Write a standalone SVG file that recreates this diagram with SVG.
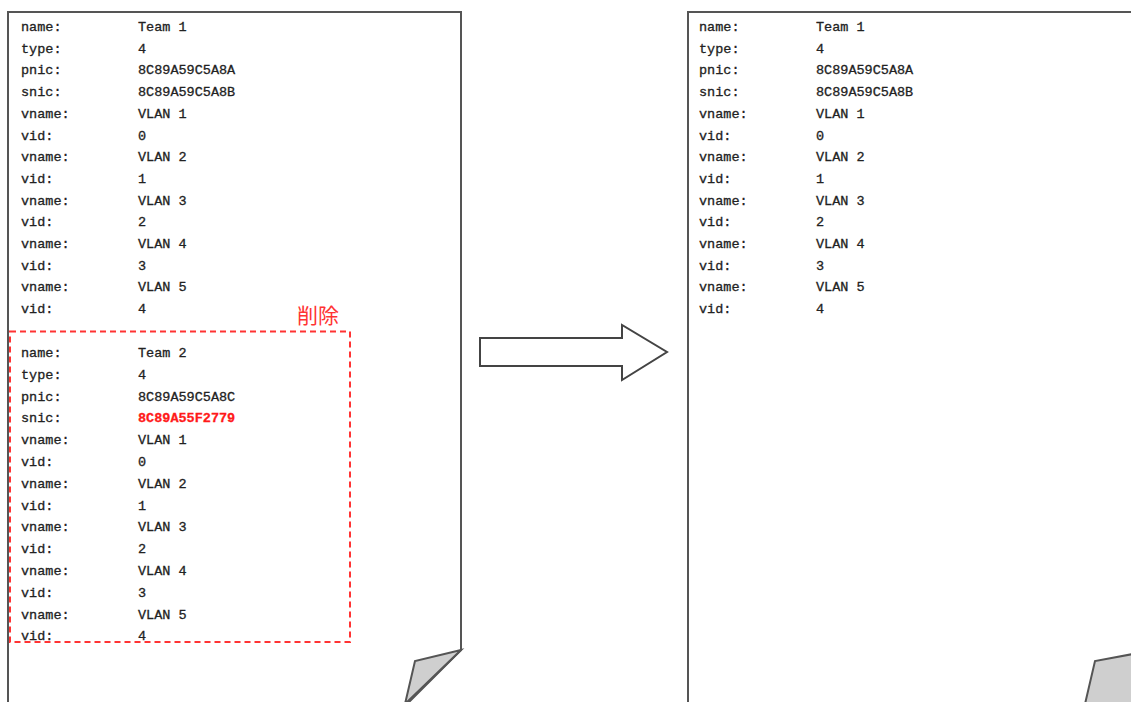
<svg xmlns="http://www.w3.org/2000/svg" width="1131" height="702" viewBox="0 0 1131 702">
<style>
.page{fill:#fff;stroke:#555;stroke-width:2}
.fold{fill:#cfcfcf;stroke:#555;stroke-width:2;stroke-linejoin:miter}
.t{font-family:"Liberation Mono","DejaVu Sans Mono",monospace;font-size:13.5px;fill:#222;stroke:#222;stroke-width:0.3}
.red{fill:#ff1a1a;stroke:#ff1a1a;font-weight:bold}
.del{fill:none;stroke:#ff3333;stroke-width:2;stroke-dasharray:6,4}
.lbl{font-family:"Noto Sans CJK JP","Noto Sans CJK SC",sans-serif;font-size:21px;fill:#ff3333}
.arrow{fill:#fff;stroke:#444;stroke-width:2}
</style>
<rect width="1131" height="702" fill="#fff"/>
<g id="page-before">
<path class="page" d="M8,12 H461 V650 L405,706 H8 Z"/>
<path class="fold" d="M461,650 L415,661 L405,704 Z"/>
<g class="t">
<text x="21" y="31">name:</text><text x="138" y="31">Team 1</text>
<text x="21" y="52.7">type:</text><text x="138" y="52.7">4</text>
<text x="21" y="74.4">pnic:</text><text x="138" y="74.4">8C89A59C5A8A</text>
<text x="21" y="96.1">snic:</text><text x="138" y="96.1">8C89A59C5A8B</text>
<text x="21" y="117.8">vname:</text><text x="138" y="117.8">VLAN 1</text>
<text x="21" y="139.5">vid:</text><text x="138" y="139.5">0</text>
<text x="21" y="161.2">vname:</text><text x="138" y="161.2">VLAN 2</text>
<text x="21" y="182.9">vid:</text><text x="138" y="182.9">1</text>
<text x="21" y="204.6">vname:</text><text x="138" y="204.6">VLAN 3</text>
<text x="21" y="226.3">vid:</text><text x="138" y="226.3">2</text>
<text x="21" y="248">vname:</text><text x="138" y="248">VLAN 4</text>
<text x="21" y="269.7">vid:</text><text x="138" y="269.7">3</text>
<text x="21" y="291.4">vname:</text><text x="138" y="291.4">VLAN 5</text>
<text x="21" y="313.1">vid:</text><text x="138" y="313.1">4</text>
<text x="21" y="357">name:</text><text x="138" y="357">Team 2</text>
<text x="21" y="378.8">type:</text><text x="138" y="378.8">4</text>
<text x="21" y="400.6">pnic:</text><text x="138" y="400.6">8C89A59C5A8C</text>
<text x="21" y="422.4">snic:</text><text x="138" y="422.4" class="red">8C89A55F2779</text>
<text x="21" y="444.2">vname:</text><text x="138" y="444.2">VLAN 1</text>
<text x="21" y="466">vid:</text><text x="138" y="466">0</text>
<text x="21" y="487.8">vname:</text><text x="138" y="487.8">VLAN 2</text>
<text x="21" y="509.6">vid:</text><text x="138" y="509.6">1</text>
<text x="21" y="531.4">vname:</text><text x="138" y="531.4">VLAN 3</text>
<text x="21" y="553.2">vid:</text><text x="138" y="553.2">2</text>
<text x="21" y="575">vname:</text><text x="138" y="575">VLAN 4</text>
<text x="21" y="596.8">vid:</text><text x="138" y="596.8">3</text>
<text x="21" y="618.6">vname:</text><text x="138" y="618.6">VLAN 5</text>
<text x="21" y="640.4">vid:</text><text x="138" y="640.4">4</text>
</g>
</g>
<g id="delete-region">
<rect class="del" x="10" y="331.5" width="340" height="310.5"/>
<text class="lbl" x="297" y="323">削除</text>
</g>
<g id="connectors">
<path class="arrow" d="M480,338 H622 V325 L667,352 L622,380 V366 H480 Z"/>
</g>
<g id="page-after">
<path class="page" d="M688,12 H1135 V706 H688 Z"/>
<path class="fold" d="M1133,654 L1095,661 L1085,704 L1133,704 Z"/>
<g class="t">
<text x="699" y="31">name:</text><text x="816" y="31">Team 1</text>
<text x="699" y="52.7">type:</text><text x="816" y="52.7">4</text>
<text x="699" y="74.4">pnic:</text><text x="816" y="74.4">8C89A59C5A8A</text>
<text x="699" y="96.1">snic:</text><text x="816" y="96.1">8C89A59C5A8B</text>
<text x="699" y="117.8">vname:</text><text x="816" y="117.8">VLAN 1</text>
<text x="699" y="139.5">vid:</text><text x="816" y="139.5">0</text>
<text x="699" y="161.2">vname:</text><text x="816" y="161.2">VLAN 2</text>
<text x="699" y="182.9">vid:</text><text x="816" y="182.9">1</text>
<text x="699" y="204.6">vname:</text><text x="816" y="204.6">VLAN 3</text>
<text x="699" y="226.3">vid:</text><text x="816" y="226.3">2</text>
<text x="699" y="248">vname:</text><text x="816" y="248">VLAN 4</text>
<text x="699" y="269.7">vid:</text><text x="816" y="269.7">3</text>
<text x="699" y="291.4">vname:</text><text x="816" y="291.4">VLAN 5</text>
<text x="699" y="313.1">vid:</text><text x="816" y="313.1">4</text>
</g>
</g>
</svg>
